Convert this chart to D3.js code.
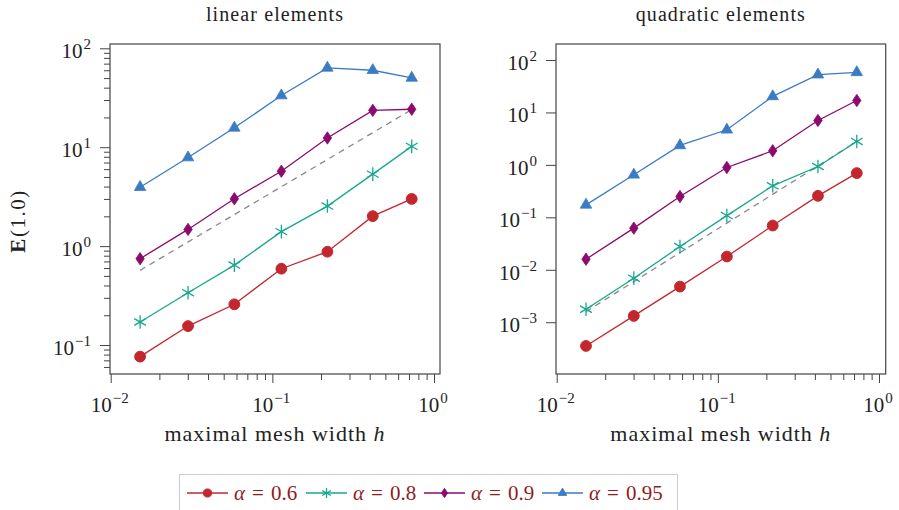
<!DOCTYPE html>
<html>
<head>
<meta charset="utf-8">
<script src="https://cdn.jsdelivr.net/npm/d3@7"></script>
<style>
  body { margin: 0; background: #fff; }
  text { font-family: "Liberation Serif", "DejaVu Serif", serif; fill: #222; }
</style>
</head>
<body>
<div id="chart"></div>
<script>
// mesh widths h (shared by both panels)
var meshWidths = [0.0152, 0.0301, 0.0582, 0.1137, 0.219, 0.418, 0.728];

// linear elements, E(1.0)
var linAlpha06 = [0.0763, 0.1555, 0.258, 0.591, 0.878, 2.01, 3.0];
var linAlpha08 = [0.171, 0.338, 0.643, 1.40, 2.54, 5.34, 10.2];
var linAlpha09 = [0.746, 1.475, 3.01, 5.72, 12.4, 23.6, 24.2];
var linAlpha095 = [3.94, 7.87, 15.7, 33.3, 63.4, 60.0, 50.2];
var linReference = [0.569, 24.0];   // dashed slope line, first and last h

// quadratic elements, E(1.0)
var quadAlpha06 = [0.000353, 0.00132, 0.00478, 0.0179, 0.0698, 0.257, 0.698];
var quadAlpha08 = [0.00177, 0.00692, 0.0277, 0.108, 0.399, 0.931, 2.80];
var quadAlpha09 = [0.0159, 0.0622, 0.249, 0.892, 1.86, 7.03, 16.9];
var quadAlpha095 = [0.173, 0.647, 2.35, 4.67, 20.2, 52.5, 58.2];
var quadReference = [0.00159, 2.8];

var seriesLabels = ["0.6", "0.8", "0.9", "0.95"];
var seriesColors = ["#c4262e", "#17a88c", "#8c0a6e", "#3a7bc4"];
var seriesMarks = ["circle", "star", "diamond", "triangle"];

var xTickExps = [-2, -1, 0];
var linYTickExps = [-1, 0, 1, 2];
var quadYTickExps = [-3, -2, -1, 0, 1, 2];

var svg = d3.select("#chart").append("svg").attr("width", 899).attr("height", 510);

// draws one marker shape centred on 0,0
function drawMark(g, kind, color, s) {
  if (kind === "circle") {
    g.append("circle").attr("r", 5.4 * s).attr("fill", color).attr("stroke", color);
  } else if (kind === "diamond") {
    g.append("path").attr("d", "M0," + (-6.2 * s) + "L" + (4.2 * s) + ",0L0," + (6.2 * s) + "L" + (-4.2 * s) + ",0Z")
      .attr("fill", color).attr("stroke", color).attr("stroke-width", 0.8);
  } else if (kind === "triangle") {
    var r = 6.6 * s;
    g.append("path").attr("d", "M0," + (-r) + "L" + (r * 0.866) + "," + (r * 0.5) + "L" + (-r * 0.866) + "," + (r * 0.5) + "Z")
      .attr("fill", color).attr("stroke", color).attr("stroke-width", 0.8);
  } else {
    var a = 6.8 * s, p = "";
    [90, 30, -30].forEach(function(deg) {
      var t = deg * Math.PI / 180;
      p += "M" + (a * Math.cos(t)) + "," + (-a * Math.sin(t)) + "L" + (-a * Math.cos(t)) + "," + (a * Math.sin(t));
    });
    g.append("path").attr("d", p).attr("stroke", color).attr("stroke-width", 1.3).attr("fill", "none");
  }
}

// power of ten label: "10" with superscript
function powerLabel(sel, e) {
  sel.append("tspan").text("10");
  sel.append("tspan").attr("dy", -9).attr("dx", 1).attr("font-size", 15)
    .text(e < 0 ? "\u2212" + (-e) : String(e));
}

function panel(opt) {
  var x = d3.scaleLog().domain(opt.xDomain).range([opt.left, opt.right]);
  var y = d3.scaleLog().domain(opt.yDomain).range([opt.bottom, opt.top]);
  var g = svg.append("g");

  // frame
  g.append("rect").attr("x", opt.left).attr("y", opt.top)
    .attr("width", opt.right - opt.left).attr("height", opt.bottom - opt.top)
    .attr("fill", "none").attr("stroke", "#444").attr("stroke-width", 1.2);

  // x ticks
  var xMinor = [];
  for (var e = -2; e <= 0; e++) for (var m = 1; m < 10; m++) {
    var v = m * Math.pow(10, e);
    if (v >= opt.xDomain[0] && v <= opt.xDomain[1]) xMinor.push(v);
  }
  var xAxis = g.append("g").attr("transform", "translate(0," + opt.bottom + ")")
    .call(d3.axisBottom(x).tickValues(xMinor).tickSize(6).tickSizeOuter(0).tickFormat(""));
  xAxis.select(".domain").remove();
  xAxis.selectAll(".tick line").attr("stroke", "#444").attr("y2", function(d) {
    return xTickExps.indexOf(Math.round(Math.log10(d) * 1000) / 1000) >= 0 ? 9 : 6;
  });
  xTickExps.forEach(function(e) {
    g.append("text").attr("x", x(Math.pow(10, e)) - 1).attr("y", opt.bottom + 38)
      .attr("text-anchor", "middle").attr("font-size", 21).call(powerLabel, e);
  });

  // y ticks
  var yTicks = [];
  opt.yTickExps.forEach(function(e) { yTicks.push(Math.pow(10, e)); });
  if (opt.yMinor) {
    for (var e2 = -2; e2 <= 2; e2++) for (var m2 = 2; m2 < 10; m2++) {
      var v2 = m2 * Math.pow(10, e2);
      if (v2 >= opt.yDomain[0] && v2 <= opt.yDomain[1]) yTicks.push(v2);
    }
  }
  var yAxis = g.append("g").attr("transform", "translate(" + opt.left + ",0)")
    .call(d3.axisLeft(y).tickValues(yTicks).tickSize(6).tickSizeOuter(0).tickFormat(""));
  yAxis.select(".domain").remove();
  yAxis.selectAll(".tick line").attr("stroke", "#444").attr("x2", function(d) {
    var l = Math.log10(d);
    return Math.abs(l - Math.round(l)) < 1e-6 ? -10 : -6;
  });
  opt.yTickExps.forEach(function(e) {
    g.append("text").attr("x", opt.left - 19).attr("y", y(Math.pow(10, e)) + 10)
      .attr("text-anchor", "end").attr("font-size", 21).call(powerLabel, e);
  });

  // title & x label
  var cx = (opt.left + opt.right) / 2;
  g.append("text").attr("x", cx).attr("y", 21).attr("text-anchor", "middle")
    .attr("font-size", 20).attr("letter-spacing", 1.1).text(opt.title);
  var xl = g.append("text").attr("x", cx).attr("y", 441).attr("text-anchor", "middle")
    .attr("font-size", 22).attr("letter-spacing", 1);
  xl.append("tspan").text("maximal mesh width ");
  xl.append("tspan").attr("font-style", "italic").text("h");

  var line = d3.line().x(function(d) { return x(d[0]); }).y(function(d) { return y(d[1]); });

  // dashed reference slope
  var refH = [meshWidths[0], meshWidths[meshWidths.length - 1]];
  g.append("path").datum(d3.zip(refH, opt.reference))
    .attr("d", line).attr("fill", "none").attr("stroke", "#888")
    .attr("stroke-width", 1.3).attr("stroke-dasharray", "6,5");

  opt.series.forEach(function(vals, i) {
    var pts = d3.zip(meshWidths, vals);
    g.append("path").datum(pts).attr("d", line).attr("fill", "none")
      .attr("stroke", seriesColors[i]).attr("stroke-width", 1.3);
    pts.forEach(function(p) {
      var mg = g.append("g").attr("transform", "translate(" + x(p[0]) + "," + y(p[1]) + ")");
      drawMark(mg, seriesMarks[i], seriesColors[i], 1);
    });
  });
}

panel({
  left: 110, right: 440, top: 44, bottom: 374,
  xDomain: [Math.pow(10, -2.0043), Math.pow(10, 0.037)],
  yDomain: [Math.pow(10, -1.293), Math.pow(10, 2.0435)],
  yTickExps: linYTickExps, yMinor: true,
  title: "linear elements",
  series: [linAlpha06, linAlpha08, linAlpha09, linAlpha095],
  reference: linReference
});

panel({
  left: 556, right: 885.7, top: 44, bottom: 374,
  xDomain: [Math.pow(10, -2.0043), Math.pow(10, 0.0415)],
  yDomain: [Math.pow(10, -3.987), Math.pow(10, 2.305)],
  yTickExps: quadYTickExps, yMinor: false,
  title: "quadratic elements",
  series: [quadAlpha06, quadAlpha08, quadAlpha09, quadAlpha095],
  reference: quadReference
});

// y label
var yl = svg.append("text").attr("transform", "translate(25,221) rotate(-90)")
  .attr("text-anchor", "middle").attr("font-size", 21).attr("letter-spacing", 1.5);
yl.append("tspan").attr("font-weight", "bold").text("E");
yl.append("tspan").text("(1.0)");

// legend
var legend = svg.append("g");
legend.append("rect").attr("x", 179.5).attr("y", 474.5).attr("width", 498).attr("height", 45)
  .attr("fill", "#fff").attr("stroke", "#ccc");
var legendX = [187, 306, 424, 542];
seriesLabels.forEach(function(lab, i) {
  var item = legend.append("g").attr("transform", "translate(" + legendX[i] + ",493)");
  item.append("line").attr("x1", 0).attr("x2", 41).attr("stroke", seriesColors[i]).attr("stroke-width", 1.3);
  var mg = item.append("g").attr("transform", "translate(20.5,0)");
  drawMark(mg, seriesMarks[i], seriesColors[i], 0.75);
  var t = item.append("text").attr("x", 47).attr("y", 7).attr("font-size", 21).style("fill", "#8f1d1d");
  t.append("tspan").attr("font-style", "italic").text("\u03b1");
  t.append("tspan").attr("dx", 7).text("=");
  t.append("tspan").attr("dx", 7).text(lab);
});
</script>
</body>
</html>
